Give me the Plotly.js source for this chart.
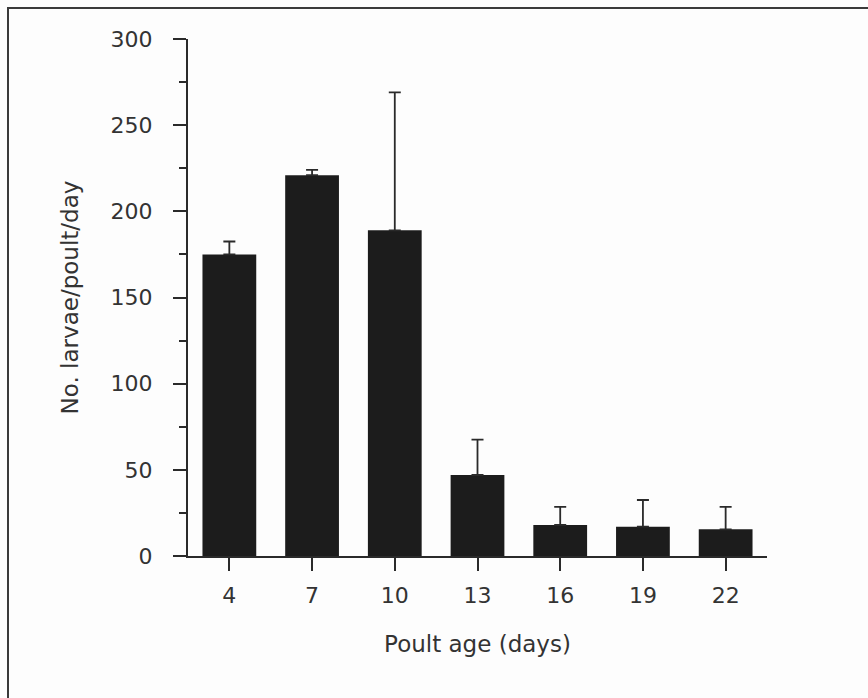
<!DOCTYPE html>
<html>
<head>
<meta charset="utf-8">
<script src="https://cdn.plot.ly/plotly-3.0.1.min.js"></script>
<style>
  html, body { margin: 0; padding: 0; background: #fdfdfd; }
  #wrap { position: relative; width: 868px; height: 698px; }
  #chart { position: absolute; left: 0; top: 0; width: 868px; height: 698px; }
  #frame { position: absolute; left: 7px; top: 7px; width: 870px; height: 700px;
           border-left: 2px solid #3a3a3a; border-top: 2px solid #3a3a3a; pointer-events: none; }
</style>
</head>
<body>
<div id="wrap">
  <div id="chart"></div>
  <div id="frame"></div>
</div>
<script>
// Data
const poultAge = [4, 7, 10, 13, 16, 19, 22];
const larvaePerDay = [175, 221, 189, 47, 18, 17, 15.5];
const errorUpper = [7.5, 3, 80, 20.5, 10.5, 15.5, 13];
const xTickLabels = ['4', '7', '10', '13', '16', '19', '22'];
const yTickVals = [0, 50, 100, 150, 200, 250, 300];

const ink = '#2a2a2a';
const textCol = '#333333';
const fontFam = '"DejaVu Sans", "Liberation Sans", sans-serif';

const trace = {
  type: 'bar',
  x: poultAge,
  y: larvaePerDay,
  width: 1.95,
  marker: { color: '#1c1c1c', line: { width: 0 } },
  error_y: {
    type: 'data',
    symmetric: false,
    array: errorUpper,
    arrayminus: poultAge.map(() => 0),
    color: ink,
    thickness: 1.8,
    width: 6,
    visible: true
  },
  hoverinfo: 'skip'
};

const layout = {
  width: 868,
  height: 698,
  margin: { l: 188, r: 101, t: 39, b: 142 },
  paper_bgcolor: '#fdfdfd',
  plot_bgcolor: '#fdfdfd',
  showlegend: false,
  font: { family: fontFam, color: textCol, size: 22 },
  xaxis: {
    range: [2.5, 23.5],
    tickvals: poultAge,
    ticktext: xTickLabels,
    ticks: 'outside',
    ticklen: 13,
    tickwidth: 2,
    tickcolor: ink,
    ticklabelstandoff: 6,
    showgrid: false,
    zeroline: false,
    showline: true,
    linecolor: ink,
    linewidth: 2,
    tickfont: { family: fontFam, size: 22, color: textCol },
    title: { text: 'Poult age (days)', font: { family: fontFam, size: 23, color: textCol }, standoff: 28 }
  },
  yaxis: {
    range: [0, 300],
    tickvals: yTickVals,
    ticktext: yTickVals.map(String),
    ticks: 'outside',
    ticklen: 13,
    tickwidth: 2,
    tickcolor: ink,
    ticklabelstandoff: 16,
    minor: { tickvals: [25, 75, 125, 175, 225, 275], ticks: 'outside', ticklen: 7, tickwidth: 2, tickcolor: ink, showgrid: false },
    showgrid: false,
    zeroline: false,
    showline: true,
    linecolor: ink,
    linewidth: 2,
    tickfont: { family: fontFam, size: 22, color: textCol },
    title: { text: 'No. larvae/poult/day', font: { family: fontFam, size: 23, color: textCol }, standoff: 26 }
  }
};

Plotly.newPlot('chart', [trace], layout, { staticPlot: true, displayModeBar: false });
</script>
</body>
</html>
